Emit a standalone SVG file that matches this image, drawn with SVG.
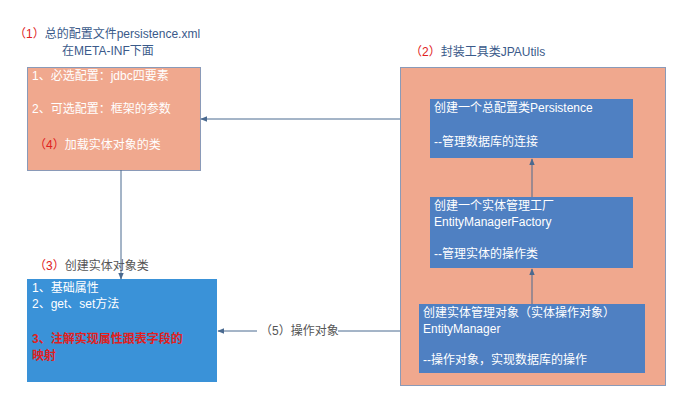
<svg xmlns="http://www.w3.org/2000/svg" width="692" height="401" viewBox="0 0 692 401">
<style>
text{font-family:"Liberation Sans","Noto Sans CJK SC",sans-serif;font-size:12px}
.w{fill:#fff}.g{fill:#555}.r{fill:#e02020}.t{fill:#3a5a8a}
.c{stroke:#4a6a90;stroke-width:1;fill:none;marker-end:url(#a)}
</style>
<defs><marker id="a" viewBox="0 0 10 10" refX="9" refY="5" markerWidth="7" markerHeight="7" orient="auto"><path d="M0,1L10,5L0,9z" fill="#4a6a90"/></marker></defs>
<rect width="692" height="401" fill="#fff"/>
<g id="n1">
<text x="14" y="38" class="t"><tspan class="r">（1）</tspan>总的配置文件persistence.xml</text>
<text x="62" y="55" class="t">在META-INF下面</text>
<rect x="27.5" y="67.5" width="173" height="103" fill="#f0a88e" stroke="#8a9ab8"/>
<text x="32" y="80" class="w">1、必选配置：jdbc四要素</text>
<text x="32" y="113" class="w">2、可选配置：框架的参数</text>
<text x="34" y="149" class="w"><tspan class="r">（4）</tspan>加载实体对象的类</text>
</g>
<g id="n2">
<text x="410" y="56" class="t"><tspan class="r">（2）</tspan>封装工具类JPAUtils</text>
<rect x="400.5" y="67.5" width="265" height="318" fill="#f0a88e" stroke="#8a9ab8"/>
</g>
<g id="n2a"><rect x="430" y="99" width="203" height="59" fill="#4f80c2"/>
<text x="434" y="112" class="w">创建一个总配置类Persistence</text>
<text x="434" y="146" class="w">--管理数据库的连接</text></g>
<g id="n2b"><rect x="430" y="197" width="203" height="71" fill="#4f80c2"/>
<text x="434" y="210" class="w">创建一个实体管理工厂</text>
<text x="434" y="226" class="w">EntityManagerFactory</text>
<text x="434" y="258" class="w">--管理实体的操作类</text></g>
<g id="n2c"><rect x="419" y="304" width="226" height="69" fill="#4f80c2"/>
<text x="423" y="317" class="w">创建实体管理对象（实体操作对象）</text>
<text x="423" y="333" class="w">EntityManager</text>
<text x="423" y="364" class="w">--操作对象，实现数据库的操作</text></g>
<g id="n3">
<text x="34" y="270" class="g"><tspan class="r">（3）</tspan>创建实体对象类</text>
<rect x="27" y="279" width="190" height="103" fill="#3a92d8"/>
<text x="32" y="292" class="w">1、基础属性</text>
<text x="32" y="308" class="w">2、get、set方法</text>
<text x="32" y="343" class="r" font-weight="bold">3、注解实现属性跟表字段的</text>
<text x="32" y="360" class="r" font-weight="bold">映射</text>
</g>
<g id="connectors">
<path class="c" d="M400,119H201"/>
<path class="c" d="M121,170V279"/>
<path class="c" d="M400,331H338M257,331H218"/>
<text x="260" y="335" class="g">（5）操作对象</text>
<path class="c" d="M532,197V159"/>
<path class="c" d="M532,304V269"/>
</g>
</svg>
